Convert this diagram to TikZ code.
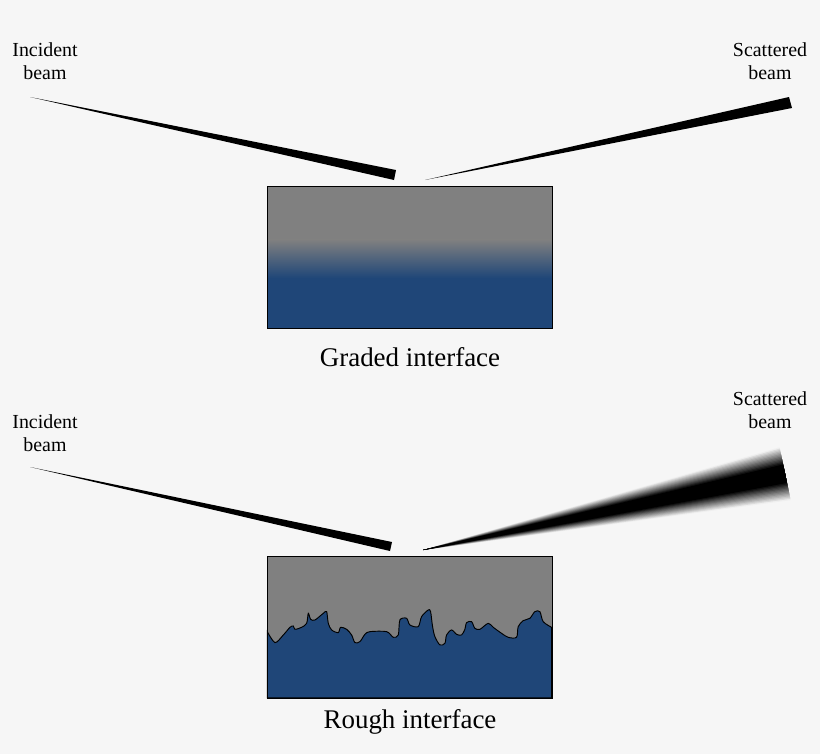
\documentclass[tikz,border=0pt]{standalone}
\usepackage{fontspec}
\setmainfont{Liberation Serif}
\usepackage{xcolor}
\definecolor{BgGray}{HTML}{F6F6F6}
\definecolor{TopLayer}{HTML}{808080}
\definecolor{SubBlue}{HTML}{1F4678}
\usetikzlibrary{positioning}

\begin{document}
\begin{tikzpicture}[
  x=0.03cm, y=-0.03cm,
  % Stile
  lbl/.style={
    font=\fontsize{17}{20}\selectfont,
    align=center
  },
  caption/.style={
    font=\fontsize{23}{26}\selectfont
  },
  beam/.style={
    fill=black
  },
  frame/.style={
    draw=black,
    line width=0.8pt
  }
]

% =============================================================================
% HINTERGRUND
% =============================================================================
\fill[BgGray] (0,0) rectangle (820,754);

% =============================================================================
% OBEN: graded interface
% =============================================================================
\node[lbl] (inc1) at (45,61) {Incident\\beam};
\node[lbl] (sca1) at (770,61) {Scattered\\beam};

\fill[beam] (30,97) -- (396,170) -- (394,180) -- cycle;
\fill[beam] (425,180) -- (789,97) -- (792,108) -- cycle;

\fill[TopLayer] (267,186) rectangle (552,240);
\shade[top color=TopLayer, bottom color=SubBlue] (267,239.5) rectangle (552,278);
\fill[SubBlue] (267,277.5) rectangle (552,328);
\draw[frame] (267,186) rectangle (552,328);
\node[caption] (cap1) at (410,357) {Graded interface};

% =============================================================================
% UNTEN: rough interface
% =============================================================================
\node[lbl] (inc2) at (45,433) {Incident\\beam};
\node[lbl] (sca2) at (770,410) {Scattered\\beam};

\fill[beam] (30,467) -- (392,542) -- (390,551) -- cycle;
% gestreuter Strahl: geschachtelte Keile, aussen hell, innen schwarz
\begin{scope}[shift={(423,550)}, rotate=11.9]
  \foreach \k in {20,...,1} {
    \pgfmathtruncatemacro{\p}{min(100,150*(1-(\k-0.5)/20))}
    \fill[black!\p!BgGray] (0,0) -- (370,{-27*\k/20}) -- (370,{27*\k/20}) -- cycle;
  }
\end{scope}

\fill[TopLayer] (267,556) rectangle (552,698);
\begin{scope}[shift={(260,540)}, x=0.01cm, y=-0.01cm]
  \filldraw[fill=SubBlue, draw=black, line width=0.8pt] (22,275)
    plot[smooth, tension=0.5] coordinates {(22,275) (45,308) (70,285) (90,262) (100,258)
      (105,268) (125,262) (140,250) (145,220) (152,238) (165,240) (190,220) (200,215)
      (205,250) (215,270) (235,278) (242,262) (260,268) (275,285) (285,308) (300,305)
      (315,283) (330,275) (380,275) (400,292) (415,285) (420,240) (440,235) (450,255)
      (475,260) (485,230) (505,210) (512,215) (518,260) (525,290) (540,315) (555,310)
      (560,285) (575,270) (590,283) (605,285) (615,268) (620,248) (635,245) (645,265)
      (660,268) (685,250) (700,262) (725,280) (745,292) (770,292) (775,260) (790,242)
      (810,235) (825,215) (840,215) (850,245) (875,262)}
    -- (875,474) -- (22,474) -- cycle;
\end{scope}
\draw[frame] (267,556) rectangle (552,698);
\node[caption] (cap2) at (410,722) {Rough interface};

\end{tikzpicture}
\end{document}
